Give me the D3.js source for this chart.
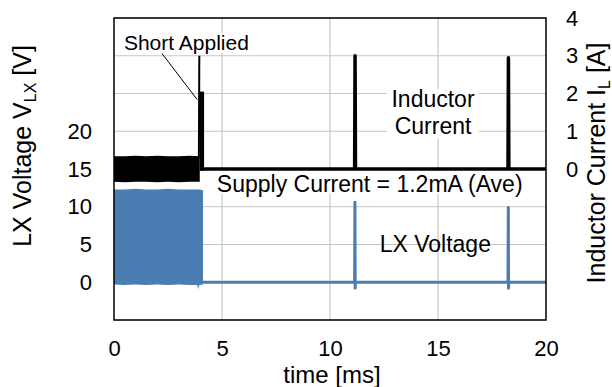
<!DOCTYPE html>
<html><head><meta charset="utf-8">
<script src="https://cdn.jsdelivr.net/npm/d3@7"></script>
<style>body{margin:0;background:#fff}svg{display:block}text{font-family:"Liberation Sans",Arial,sans-serif;fill:#000}</style>
</head><body>
<script>
// ---- data ----
const timeTicks = [0, 5, 10, 15, 20];
const voltTicks = [0, 5, 10, 15, 20];
const currTicks = [0, 1, 2, 3, 4];
const gridVolt = [-5, 0, 5, 10, 15, 20, 25, 30, 35];
const gridTime = [5, 10, 15];

// switching region envelopes (before short)
const curBandTime = [0, 0.5, 1.0, 1.5, 2.0, 2.5, 3.0, 3.5, 3.97];
const curBandHigh = [0.34, 0.34, 0.35, 0.34, 0.35, 0.34, 0.34, 0.35, 0.34];
const curBandLow  = [-0.34, -0.35, -0.34, -0.34, -0.35, -0.34, -0.35, -0.34, -0.34];
const voltBandTime = [0, 0.5, 1.0, 1.5, 2.0, 2.5, 3.0, 3.5, 3.85, 3.9, 3.95, 4.12];
const voltBandHigh = [12.3, 12.3, 12.4, 12.3, 12.3, 12.4, 12.3, 12.3, 12.3, 12.3, 12.3, 12.2];
const voltBandLow  = [-0.3, -0.35, -0.3, -0.35, -0.3, -0.35, -0.3, -0.35, -0.35, -0.9, -0.35, -0.3];

// short event
const shortSpikeTime = [3.93, 3.95];
const shortSpikeCur = [0.3, 3.0];
const shortBlockTime = [3.97, 4.17];
const shortBlockHigh = [2.05, 2.05];
const shortBlockLow = [-0.05, -0.05];

// traces after short
const curTraceTime = [4.1, 11.14, 11.16, 11.18, 18.24, 18.26, 18.28, 20];
const curTraceVal  = [0, 0, 3.0, 0, 0, 2.95, 0, 0];
const voltTraceTime = [4.1, 11.14, 11.155, 11.165, 11.175, 18.24, 18.255, 18.265, 18.275, 20];
const voltTraceVal  = [0, 0, 10.6, -0.8, 0, 0, 9.9, -0.8, 0, 0];

// annotations (data coords: time, volt)
const shortLabel = {text: "Short Applied", t: 0.46, v: 30.8};
const shortLeader = [[2.22, 30.3], [3.85, 24.2]];
const inductorLabel = {lines: ["Inductor", "Current"], t: 14.77, v: [23.2, 19.7]};
const supplyLabel = {text: "Supply Current = 1.2mA (Ave)", t: 4.76, v: 12.0};
const lxLabel = {text: "LX Voltage", t: 12.3, v: 4.05};

// ---- chart ----
const W = 612, H = 387;
const M = {l: 114, r: 546, t: 18, b: 320};
const svg = d3.select("body").append("svg").attr("width", W).attr("height", H);
const x = d3.scaleLinear([0, 20], [M.l, M.r]);
const yV = d3.scaleLinear([-5, 35], [M.b, M.t]);
const yI = d3.scaleLinear([-4, 4], [M.b, M.t]);
const blue = "#4a7db1";

// grid
svg.append("g").selectAll("line").data(gridVolt).join("line")
  .attr("x1", M.l).attr("x2", M.r).attr("y1", d => yV(d)).attr("y2", d => yV(d))
  .attr("stroke", "#c6c6c6").attr("stroke-width", 1.2);
svg.append("g").selectAll("line").data(gridTime).join("line")
  .attr("y1", M.t).attr("y2", M.b).attr("x1", d => x(d)).attr("x2", d => x(d))
  .attr("stroke", "#c6c6c6").attr("stroke-width", 1.2);

function box(x0, y0, x1, y1) {
  svg.append("rect").attr("x", x0).attr("y", y0).attr("width", x1 - x0).attr("height", y1 - y0).attr("fill", "#fff");
}

// voltage band + trace
const area = (xs, hi, lo, ys) => d3.area().x((d, i) => x(xs[i])).y0((d, i) => ys(lo[i])).y1((d, i) => ys(hi[i]))(xs);
svg.append("path").attr("d", area(voltBandTime, voltBandHigh, voltBandLow, yV)).attr("fill", blue);
svg.append("path").attr("d", d3.line().x((d, i) => x(voltTraceTime[i])).y((d, i) => yV(voltTraceVal[i]))(voltTraceTime))
  .attr("fill", "none").attr("stroke", blue).attr("stroke-width", 3).attr("stroke-linejoin", "round");

// white boxes behind labels
box(x(supplyLabel.t) - 3, yV(supplyLabel.v) - 21, 545, yV(supplyLabel.v) + 2);
box(x(shortLabel.t) - 2, yV(shortLabel.v) - 17, x(shortLabel.t) + 128, yV(shortLabel.v) + 3);
box(x(inductorLabel.t) - 46, yV(inductorLabel.v[0]) - 18, x(inductorLabel.t) + 46, yV(inductorLabel.v[1]) + 5);

// current band + trace
svg.append("path").attr("d", area(curBandTime, curBandHigh, curBandLow, yI)).attr("fill", "#000");
svg.append("path").attr("d", area(shortBlockTime, shortBlockHigh, shortBlockLow, yI)).attr("fill", "#000");
svg.append("path").attr("d", d3.line().x((d, i) => x(shortSpikeTime[i])).y((d, i) => yI(shortSpikeCur[i]))(shortSpikeTime))
  .attr("fill", "none").attr("stroke", "#000").attr("stroke-width", 2);
svg.append("path").attr("d", d3.line().x((d, i) => x(curTraceTime[i])).y((d, i) => yI(curTraceVal[i]))(curTraceTime))
  .attr("fill", "none").attr("stroke", "#000").attr("stroke-width", 3.5).attr("stroke-linejoin", "round");

// frame
svg.append("rect").attr("x", M.l).attr("y", M.t).attr("width", M.r - M.l).attr("height", M.b - M.t)
  .attr("fill", "none").attr("stroke", "#000").attr("stroke-width", 1.5);

// annotations
svg.append("text").attr("x", x(shortLabel.t)).attr("y", yV(shortLabel.v)).attr("font-size", 21).text(shortLabel.text);
svg.append("line").attr("x1", x(shortLeader[0][0])).attr("y1", yV(shortLeader[0][1]))
  .attr("x2", x(shortLeader[1][0])).attr("y2", yV(shortLeader[1][1])).attr("stroke", "#000").attr("stroke-width", 1);
inductorLabel.lines.forEach((s, i) => {
  svg.append("text").attr("x", x(inductorLabel.t)).attr("y", yV(inductorLabel.v[i])).attr("text-anchor", "middle")
    .attr("font-size", 23).text(s);
});
svg.append("text").attr("x", x(supplyLabel.t)).attr("y", yV(supplyLabel.v)).attr("font-size", 23).text(supplyLabel.text);
svg.append("text").attr("x", x(lxLabel.t)).attr("y", yV(lxLabel.v)).attr("font-size", 23).text(lxLabel.text);

// axes
const fmt = d3.format("d");
const gx = svg.append("g").attr("transform", `translate(0,${M.b})`)
  .call(d3.axisBottom(x).tickValues(timeTicks).tickFormat(fmt).tickSize(0).tickPadding(20));
const gl = svg.append("g").attr("transform", `translate(${M.l},0)`)
  .call(d3.axisLeft(yV).tickValues(voltTicks).tickFormat(fmt).tickSize(0).tickPadding(22));
const gr = svg.append("g").attr("transform", `translate(${M.r},0)`)
  .call(d3.axisRight(yI).tickValues(currTicks).tickFormat(fmt).tickSize(0).tickPadding(20));
[gx, gl, gr].forEach(g => {
  g.select(".domain").remove();
  g.selectAll("text").attr("font-size", 22).attr("font-family", "Liberation Sans, Arial, sans-serif").attr("fill", "#000");
});

// axis titles
svg.append("text").attr("x", 332).attr("y", 383).attr("text-anchor", "middle").attr("font-size", 24).text("time [ms]");
const lt = svg.append("text").attr("transform", "translate(31,146) rotate(-90)").attr("text-anchor", "middle").attr("font-size", 25);
lt.append("tspan").text("LX Voltage V");
lt.append("tspan").attr("font-size", 16).attr("dy", 5).text("LX");
lt.append("tspan").attr("dy", -5).text(" [V]");
const rt = svg.append("text").attr("transform", "translate(605,163) rotate(-90)").attr("text-anchor", "middle").attr("font-size", 25);
rt.append("tspan").text("Inductor Current I");
rt.append("tspan").attr("font-size", 16).attr("dy", 5).text("L");
rt.append("tspan").attr("dy", -5).text(" [A]");
</script>
</body></html>
